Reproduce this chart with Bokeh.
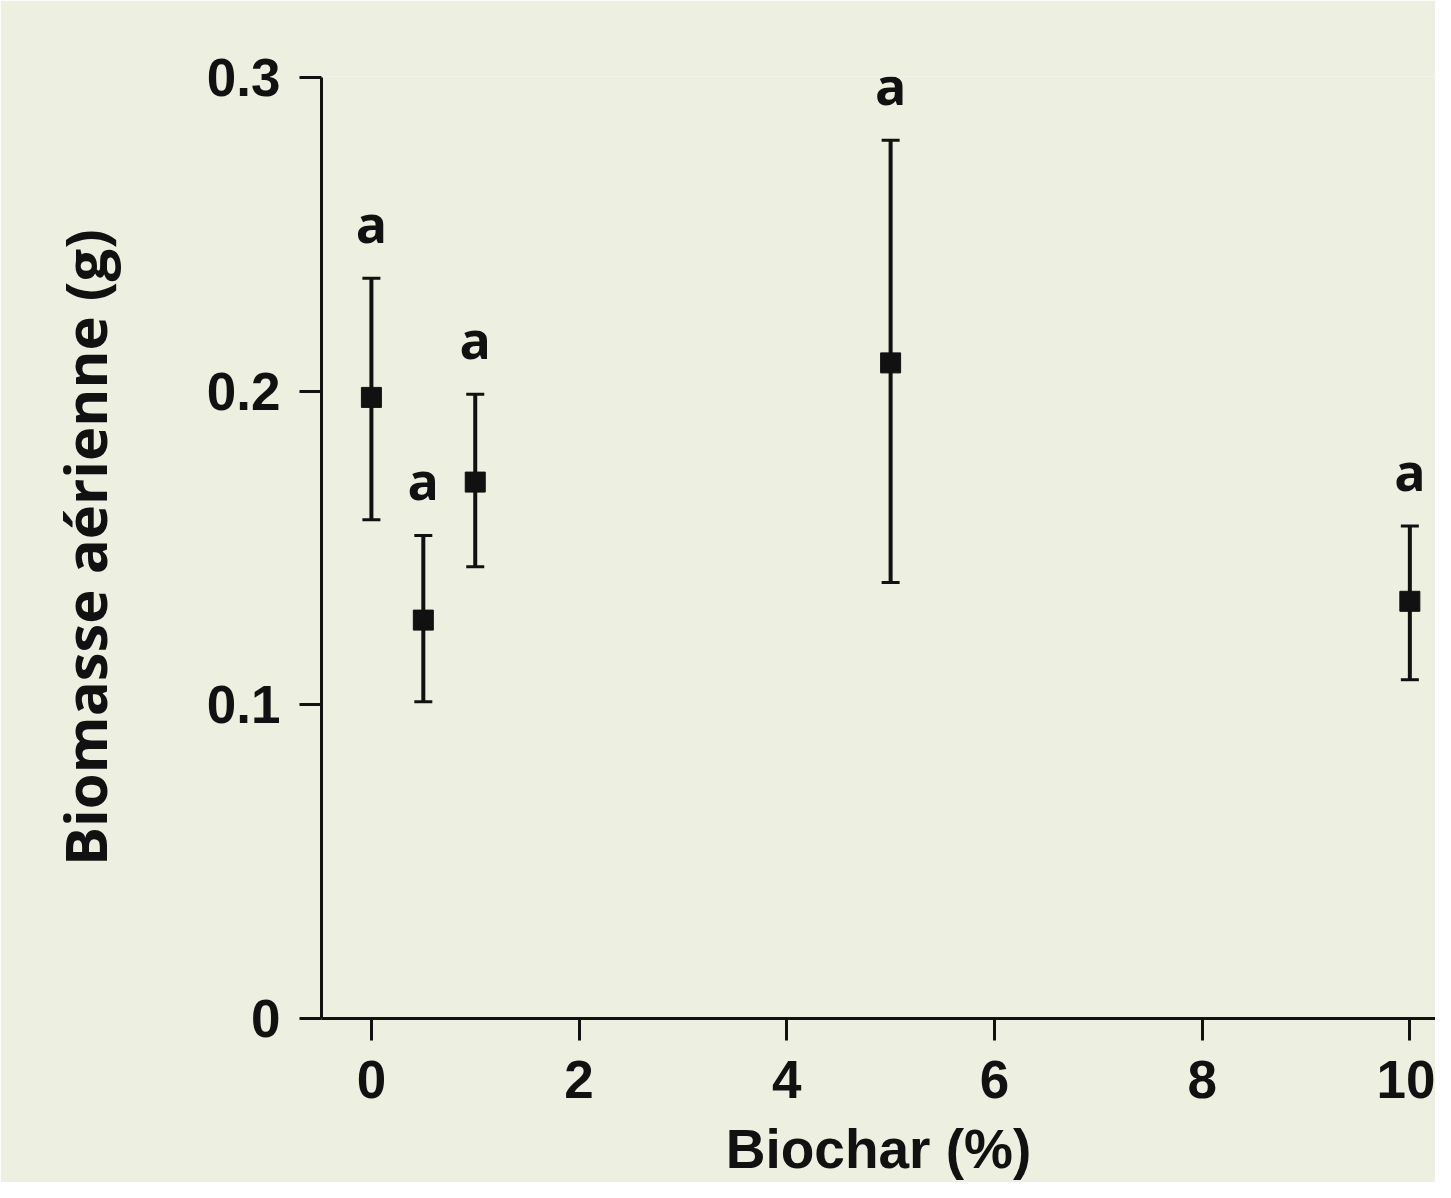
from bokeh.plotting import figure
from bokeh.models import ColumnDataSource, Whisker, TeeHead, FixedTicker, LabelSet
from bokeh.core.properties import value
from bokeh.embed import file_html
from bokeh.resources import INLINE

# Data
biochar = [0, 0.5, 1, 5, 10]
biomass_mean = [0.198, 0.127, 0.171, 0.209, 0.133]
biomass_upper = [0.236, 0.154, 0.199, 0.280, 0.157]
biomass_lower = [0.159, 0.101, 0.144, 0.139, 0.108]
letters = ["a", "a", "a", "a", "a"]
x_ticks = [0, 2, 4, 6, 8, 10]
y_ticks = [0, 0.1, 0.2, 0.3]
y_tick_labels = {0: "0", 0.1: "0.1", 0.2: "0.2", 0.3: "0.3"}
x_title = "Biochar (%)"
y_title = "Biomasse aérienne (g)"

BG = "#EDF0E1"
INK = "#111111"

src = ColumnDataSource(dict(x=biochar, y=biomass_mean, up=biomass_upper,
                            lo=biomass_lower, lab=letters))

p = figure(width=1435, height=1182, output_backend="svg", toolbar_location=None,
           x_range=(-0.4805, 10.247), y_range=(0, 0.3003),
           min_border_left=321, min_border_right=0, min_border_top=76,
           min_border_bottom=164)
p.background_fill_color = BG
p.border_fill_color = BG
p.outline_line_color = None
p.grid.visible = False

for ax in (p.xaxis[0], p.yaxis[0]):
    ax.axis_line_width = 3
    ax.axis_line_color = INK
    ax.major_tick_line_width = 3
    ax.major_tick_line_color = INK
    ax.major_tick_out = 22
    ax.major_tick_in = 0
    ax.minor_tick_line_color = None
    ax.major_label_text_font = "Liberation Sans"
    ax.major_label_text_font_style = "bold"
    ax.major_label_text_font_size = "53px"
    ax.major_label_text_color = INK
    ax.axis_label_text_color = INK

p.xaxis.ticker = FixedTicker(ticks=x_ticks)
p.xaxis.bounds = (-0.4805, 10.42)
p.xaxis.major_label_standoff = 20
p.xaxis.axis_label = x_title
p.xaxis.axis_label_text_font = "Liberation Sans"
p.xaxis.axis_label_text_font_style = "bold"
p.xaxis.axis_label_text_font_size = "55px"
p.xaxis.axis_label_standoff = 17

p.yaxis.ticker = FixedTicker(ticks=y_ticks)
p.yaxis.major_label_overrides = y_tick_labels
p.yaxis.bounds = (0, 0.3)
p.yaxis.major_label_standoff = 19
p.yaxis.axis_label = y_title
p.yaxis.axis_label_text_font = "Open Sans"
p.yaxis.axis_label_text_font_style = "bold"
p.yaxis.axis_label_text_font_size = "58px"
p.yaxis.axis_label_standoff = 80

w = Whisker(source=src, base="x", upper="up", lower="lo",
            line_width=4, line_color=INK,
            upper_head=TeeHead(size=18, line_width=3, line_color=INK),
            lower_head=TeeHead(size=18, line_width=3, line_color=INK))
p.add_layout(w)

p.scatter("x", "y", source=src, marker="square", size=20,
          fill_color=INK, line_color=INK)

labels = LabelSet(x="x", y="up", text="lab", source=src, y_offset=35,
                  text_align="center", text_baseline="alphabetic",
                  text_font=value("Open Sans"), text_font_style="bold",
                  text_font_size="52px", text_color=INK)
p.add_layout(labels)

open("out.html", "w").write(file_html(p, INLINE))
